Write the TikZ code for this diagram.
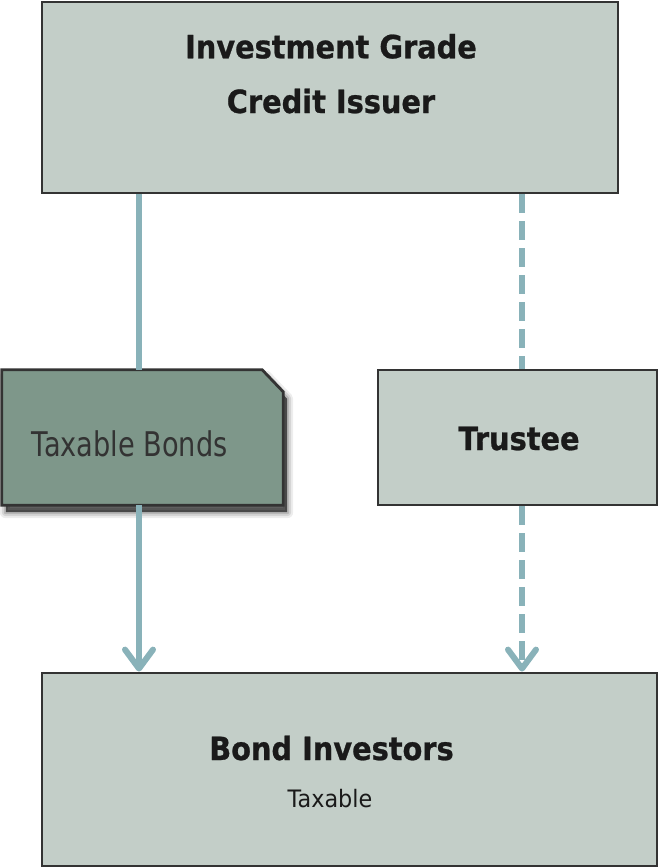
\documentclass[tikz,border=0pt]{standalone}
\usepackage{fontspec}
\setmainfont{DejaVu Sans}[FakeStretch=0.9, BoldFeatures={FakeBold=0.8}]
\newfontfamily\regfont{DejaVu Sans}[FakeStretch=0.93]
\newfontfamily\tbfont{DejaVu Sans}[FakeStretch=0.8]
\usetikzlibrary{arrows.meta}
\definecolor{boxfill}{HTML}{C3CEC8}
\definecolor{darkfill}{HTML}{7E978A}
\definecolor{edge}{HTML}{333333}
\definecolor{conncol}{HTML}{89B2B9}
\definecolor{txt}{HTML}{1A1A1A}
\tikzset{
  box/.style={draw=edge, line width=2.8pt, fill=boxfill, rectangle, inner sep=0pt},
  conn/.style={draw=conncol, line width=6pt},
  tipped/.style={-{Straight Barb[length=19pt,width=28pt,line cap=round,line join=round]}},
  dashconn/.style={dash pattern=on 19pt off 8pt},
  bigbold/.style={font=\fontsize{32}{55}\selectfont\bfseries, text=txt, inner sep=0pt, anchor=base},
}
% cut-corner outline of the Taxable Bonds node, shifted by (#1,#2) canvas pt
\newcommand\tbshape[2]{([xshift=#1pt,yshift=#2pt]tb.south west) -- ([xshift=#1pt,yshift=#2pt]tb.north west) -- ([xshift=#1pt-21pt,yshift=#2pt]tb.north east) -- ([xshift=#1pt,yshift=#2pt-22pt]tb.north east) -- ([xshift=#1pt,yshift=#2pt]tb.south east) -- cycle}
\begin{document}
\begin{tikzpicture}[x=1pt,y=-1pt]
\useasboundingbox (0,0) rectangle (659,868);
% top box
\node[box, minimum width=576pt, minimum height=191pt] (top) at (330,97.5) {};
\node[bigbold] (t1) at (331,58.3) {Investment Grade};
\node[bigbold] (t2) at (331,113) {Credit Issuer};
% trustee
\node[box, minimum width=279pt, minimum height=135pt] (trustee) at (517.5,437.5) {};
\node[bigbold] (trtext) at (519,450) {Trustee};
% bottom
\node[box, minimum width=615pt, minimum height=193pt] (bottom) at (349.5,769.5) {};
\node[bigbold] (bi) at (331.5,760) {Bond Investors};
\node[font=\regfont\fontsize{24}{28}\selectfont, text=txt, inner sep=0pt, anchor=base] (tx) at (330,807.7) {Taxable};
% taxable bonds shape
\node[rectangle, minimum width=281pt, minimum height=135pt, inner sep=0pt] (tb) at (142.5,437.5) {};
\foreach \w/\o in {12/0.07,8/0.10,4/0.14}{
  \draw[black, opacity=\o, line width=\w pt, line join=round] \tbshape{4}{-7};
}
\fill[black, opacity=0.6] \tbshape{4}{-7};
\draw[draw=edge, line width=2.8pt, fill=darkfill, line join=miter]
  \tbshape{0}{0};
\node[font=\tbfont\fontsize{34}{38}\selectfont, text=edge, inner sep=0pt, anchor=base west] (tbtext) at (31.7,456.7) {Taxable Bonds};
% connectors
\draw[conn] ([xshift=-3.5pt]tb.north |- top.south) -- ([xshift=-3.5pt]tb.north);
\draw[conn, tipped] ([xshift=-3.5pt]tb.south) -- ([xshift=-3.5pt]tb.south |- bottom.north);
\draw[conn, dashconn] ([xshift=4.5pt]trustee.north |- top.south) -- ([xshift=4.5pt]trustee.north);
\draw[conn, dashconn, tipped] ([xshift=4.5pt]trustee.south) -- ([xshift=4.5pt]trustee.south |- bottom.north);
\end{tikzpicture}
\end{document}
